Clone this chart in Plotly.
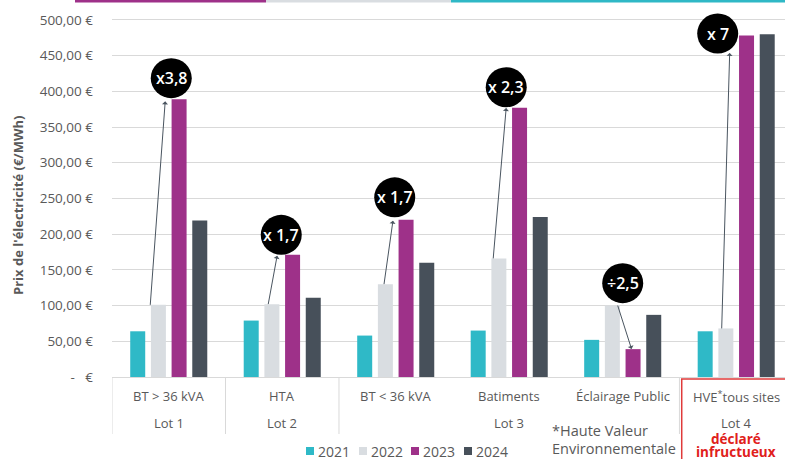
import plotly.graph_objects as go

# ---------------- data ----------------
categories = ["BT > 36 kVA", "HTA", "BT < 36 kVA", "Batiments", "Éclairage Public", "HVE<sup>*</sup>tous sites"]
years = ["2021", "2022", "2023", "2024"]
v2021 = [64, 79, 58, 65, 52, 64]
v2022 = [101, 102, 130, 166, 100, 68]
v2023 = [389, 171, 220, 377, 39, 478]
v2024 = [219, 111, 160, 224, 87, 480]
series = [v2021, v2022, v2023, v2024]

lot_labels = ["Lot 1", "Lot 2", "Lot 3", "Lot 4"]
lot_groups = [[0], [1], [2, 3, 4], [5]]

ratio_labels = ["x3,8", "x 1,7", "x 1,7", "x 2,3", "÷2,5", "x 7"]

y_tickvals = [0, 50, 100, 150, 200, 250, 300, 350, 400, 450, 500]
y_ticktext = ["-\u00a0\u00a0\u00a0€", "50,00 €", "100,00 €", "150,00 €", "200,00 €", "250,00 €",
              "300,00 €", "350,00 €", "400,00 €", "450,00 €", "500,00 €"]

# ---------------- style ----------------
colors = ["#2fb9c7", "#d9dde1", "#9e3189", "#47505a"]
GRAY = "#595959"
GRID = "#d9d9d9"
RED = "#e0201b"
FONT = "Open Sans"

W, H = 785, 459
ML, MR, MT, MB = 112, 0, 2, 82
PW = W - ML - MR
PH = H - MT - MB
X0PIX = ML
Y0PIX = H - MB  # pixel row of y=0


def px_x(px):
    return (px - X0PIX) / PW


def px_y(py):
    return (Y0PIX - py) / PH


fig = go.Figure()
for name, vals, col in zip(years, series, colors):
    fig.add_trace(go.Bar(x=categories, y=vals, name=name, marker_color=col,
                         marker_line_width=0, showlegend=False, hoverinfo="skip"))

shapes = []
annotations = []

# callout circles + ratio text (pixel offsets relative to 2023 bar top at group centre)
circle_off = [(2.5, 21), (-1, 20), (-1, 22.5), (-3, 20.5), (0, 66), (-18.5, 2)]
for i, (txt, (dx, dy)) in enumerate(zip(ratio_labels, circle_off)):
    shapes.append(dict(type="circle", xref="x", yref="y", xsizemode="pixel", ysizemode="pixel",
                       xanchor=i, yanchor=v2023[i], x0=dx - 20.5, x1=dx + 20.5,
                       y0=dy - 20, y1=dy + 20, fillcolor="black", line_width=0, layer="above"))
    annotations.append(dict(x=i, y=v2023[i], xref="x", yref="y", xshift=dx, yshift=dy,
                            text=txt, showarrow=False,
                            font=dict(family=FONT, size=16, color="white", weight=600)))

# arrows: tail at 2022 bar top, head near the callout
arrow_spec = [(-18.5, 15, -204), (-14, 9, -49), (-11.7, 9, -64), (-16, 13, -151),
              (-5, 14, 44), (-14.5, 8, -276)]
for i, (xs, ax, ay) in enumerate(arrow_spec):
    annotations.append(dict(x=i, y=v2022[i], xref="x", yref="y", xshift=xs,
                            ax=ax, ay=ay, text="", showarrow=True, arrowside="start",
                            arrowhead=2, arrowsize=1.7, arrowwidth=1, arrowcolor="#4a5560",
                            font=dict(size=1), borderpad=0, standoff=0, startstandoff=0))

# top stripe
for x0, x1, c in [(75, 266, "#9e3189"), (266, 451, "#d9dde1"), (451, 785, "#2fb8c6")]:
    shapes.append(dict(type="rect", xref="paper", yref="paper", x0=px_x(x0), x1=px_x(x1),
                       y0=px_y(2.5), y1=px_y(0), fillcolor=c, line_width=0, layer="above"))

# category axis separators
for xs in [-0.5, 0.5, 1.5, 4.5]:
    shapes.append(dict(type="line", xref="x", yref="paper", x0=xs, x1=xs,
                       y0=0, y1=px_y(434), line=dict(color=GRID, width=1)))

# red frame around lot 4
shapes.append(dict(type="rect", xref="x", yref="paper", x0=4.52, x1=5.7,
                   y0=px_y(472), y1=px_y(379), line=dict(color="#e03a3a", width=1.5),
                   fillcolor="rgba(0,0,0,0)", layer="above"))

# category labels
for i, c in enumerate(categories):
    annotations.append(dict(x=i, y=px_y(396), xref="x", yref="paper", text=c, showarrow=False,
                            yanchor="middle", font=dict(family=FONT, size=13, color=GRAY)))

# lot labels
for lab, grp in zip(lot_labels, lot_groups):
    cx = sum(grp) / len(grp)
    annotations.append(dict(x=cx, y=px_y(423), xref="x", yref="paper", text=lab, showarrow=False,
                            yanchor="middle", font=dict(family=FONT, size=13, color=GRAY)))

annotations.append(dict(x=5, y=px_y(439), xref="x", yref="paper", text="<b>déclaré</b>",
                        showarrow=False, yanchor="middle",
                        font=dict(family=FONT, size=13.5, color=RED)))
annotations.append(dict(x=5, y=px_y(452), xref="x", yref="paper", text="<b>infructueux</b>",
                        showarrow=False, yanchor="middle",
                        font=dict(family=FONT, size=13.5, color=RED)))

# footnote
annotations.append(dict(x=px_x(550), y=px_y(431), xref="paper", yref="paper",
                        text="*Haute Valeur", showarrow=False, xanchor="left", yanchor="middle",
                        font=dict(family=FONT, size=14.5, color=GRAY)))
annotations.append(dict(x=px_x(550), y=px_y(448), xref="paper", yref="paper",
                        text="Environnementale", showarrow=False, xanchor="left", yanchor="middle",
                        font=dict(family=FONT, size=14.5, color=GRAY)))

# y-axis title
annotations.append(dict(x=px_x(18), y=px_y(205), xref="paper", yref="paper",
                        text="<b>Prix de l'électricité (€/MWh)</b>", textangle=-90,
                        showarrow=False, xanchor="center", yanchor="middle",
                        font=dict(family=FONT, size=13, color=GRAY)))

# manual legend
leg_x = [306, 359, 411, 464]
for sx, name, col in zip(leg_x, years, colors):
    shapes.append(dict(type="rect", xref="paper", yref="paper", x0=px_x(sx), x1=px_x(sx + 8),
                       y0=px_y(455), y1=px_y(447), fillcolor=col, line_width=0))
    annotations.append(dict(x=px_x(sx + 10), y=px_y(451), xref="paper", yref="paper",
                            text=name, showarrow=False, xanchor="left", yanchor="middle",
                            font=dict(family=FONT, size=14, color=GRAY)))

fig.update_layout(
    width=W, height=H, autosize=False,
    margin=dict(l=ML, r=MR, t=MT, b=MB, pad=0),
    paper_bgcolor="white", plot_bgcolor="white",
    barmode="group", bargap=0.271, bargroupgap=0.275,
    font=dict(family=FONT, color=GRAY),
    xaxis=dict(range=[-0.5, 5.43], showticklabels=False, ticks="", showgrid=False,
               showline=True, linecolor=GRID, linewidth=1, zeroline=False),
    yaxis=dict(range=[0, 525], tickvals=y_tickvals, ticktext=y_ticktext, showgrid=True,
               gridcolor=GRID, gridwidth=1, zeroline=False, showline=False, ticks="",
               ticklabelstandoff=18, tickfont=dict(family=FONT, size=13.5, color=GRAY)),
    shapes=shapes, annotations=annotations, showlegend=False,
)

fig.write_html("out.html", config={"displayModeBar": False},
               post_script="document.body.style.margin='0';document.body.style.overflow='hidden';")
